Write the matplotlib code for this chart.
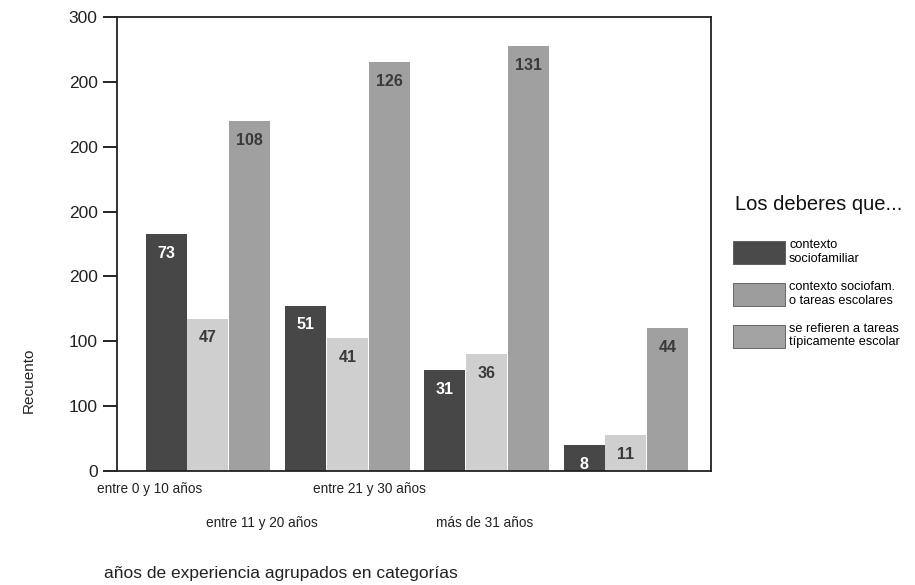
import numpy as np
import matplotlib
matplotlib.use('Agg')
import matplotlib.pyplot as plt
from matplotlib.patches import Patch

plt.rcParams['font.family'] = ['Liberation Sans', 'DejaVu Sans']

grupos = ['entre 0 y 10 años', 'entre 11 y 20 años', 'entre 21 y 30 años', 'más de 31 años']
sociofamiliar = [73, 51, 31, 8]
sociofam_o_escolar = [47, 41, 36, 11]
tipic_escolar = [108, 126, 131, 44]
series_names = ['contexto\nsociofamiliar', 'contexto sociofam.\no tareas escolares',
                'se refieren a tareas\ntípicamente escolar']
ytick_vals = [0, 20, 40, 60, 80, 100, 120, 140]
ytick_text = ['0', '100', '100', '200', '200', '200', '200', '300']

colors = ['#474747', '#cfcfcf', '#a0a0a0']
legend_colors = ['#4a4a4a', '#9d9d9d', '#a3a3a3']  # as printed in the legend
txt_colors = ['white', '#3a3a3a', '#3a3a3a']

fig = plt.figure(figsize=(9.15, 5.85), dpi=100)
ax = fig.add_axes([0.128, 0.195, 0.649, 0.776])

x = np.arange(len(grupos))
w = 0.30
allseries = [sociofamiliar, sociofam_o_escolar, tipic_escolar]
for k, vals in enumerate(allseries):
    pos = x + (k - 1) * w
    ax.bar(pos, vals, width=w * 0.98, color=colors[k], edgecolor='none')
    for p, v in zip(pos, vals):
        ax.annotate(str(v), (p, v), xytext=(0, -14), textcoords='offset points',
                    ha='center', va='center', fontsize=11.5, fontweight='bold',
                    color=txt_colors[k])

ax.set_xlim(-0.652, 3.61)
ax.set_ylim(0, 140)
ax.set_yticks(ytick_vals)
ax.set_yticklabels(ytick_text, fontsize=12.5, color='#222222')
ax.tick_params(axis='y', direction='out', length=10, width=1.2, pad=4)
ax.set_xticks([])
for s in ax.spines.values():
    s.set_linewidth(1.3)
    s.set_color('#222222')

# staggered category labels
lab_x = [-0.42, 0.387, 1.162, 1.986]
lab_y = [-0.04, -0.115, -0.04, -0.115]
for lx, ly, g in zip(lab_x, lab_y, grupos):
    ax.text(lx, ly, g, transform=ax.get_xaxis_transform(), ha='center', va='center',
            fontsize=9.8, color='#222222')

fig.text(0.307, 0.006, 'años de experiencia agrupados en categorías', ha='center',
         va='bottom', fontsize=12.5, color='#222222')
fig.text(0.031, 0.35, 'Recuento', rotation=90, ha='center', va='center',
         fontsize=11, color='#222222')

fig.text(0.803, 0.651, 'Los deberes que...', ha='left', va='center',
         fontsize=14.5, color='#111111')
handles = [Patch(facecolor=c, edgecolor='#555555', linewidth=0.6) for c in legend_colors]
leg = fig.legend(handles, series_names, loc='upper left', bbox_to_anchor=(0.789, 0.611),
                 frameon=False, fontsize=9.2, handlelength=4.0, handleheight=2.4,
                 labelspacing=1.25, handletextpad=0.35)

fig.savefig('out.png', dpi=100)
